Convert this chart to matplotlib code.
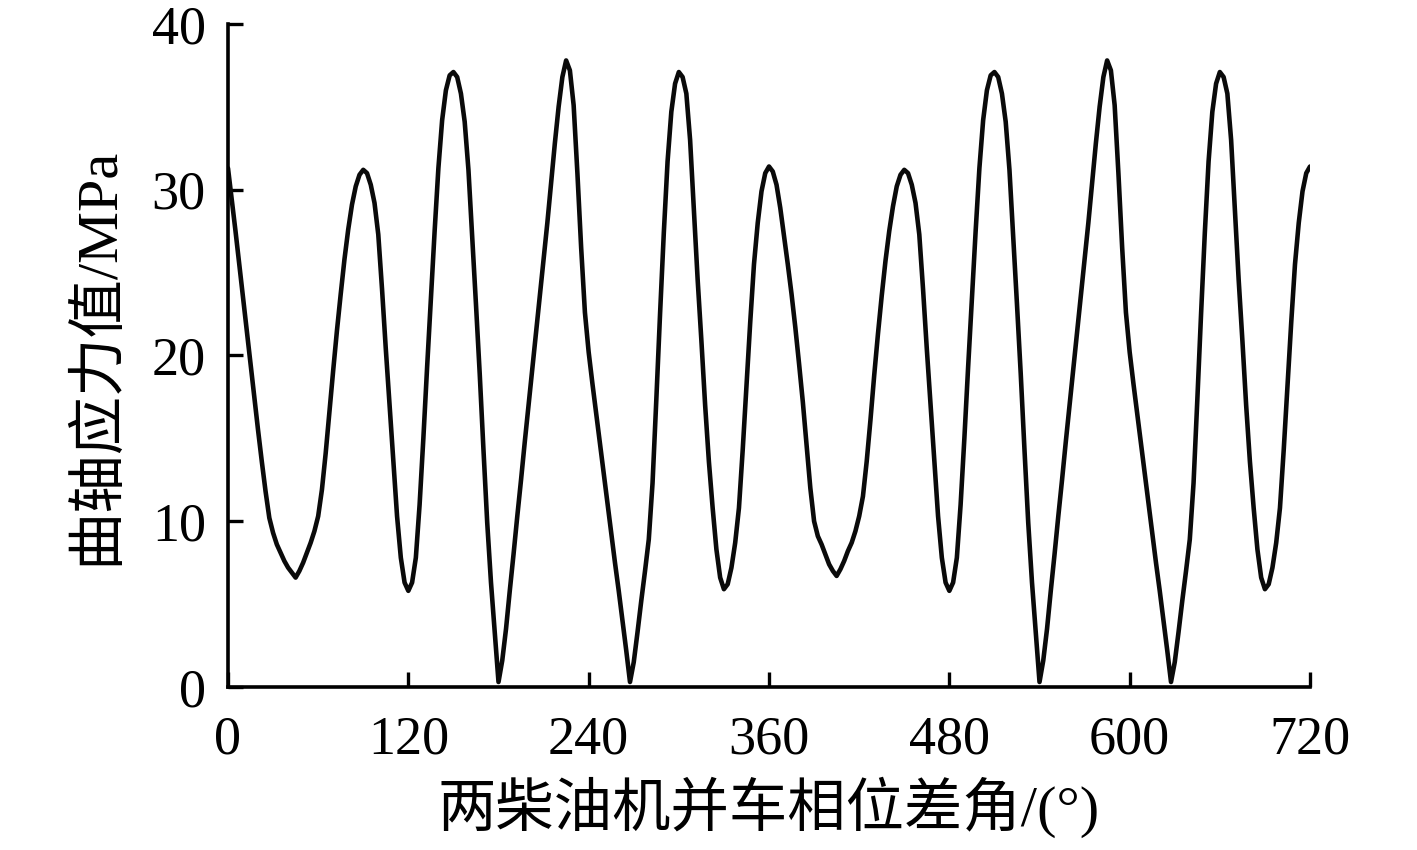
import numpy as np
import matplotlib.pyplot as plt

plt.rcParams['font.family'] = ['Liberation Serif', 'Noto Sans CJK SC']

# phase difference angle (deg), one reading every 2.5 deg from 0 to 720
angle = np.arange(0, 720.1, 2.5)

# crankshaft stress (MPa), 12 readings (30 deg) per row
stress = [
    31.3, 29.4, 27.5, 25.5, 23.5, 21.5, 19.5, 17.5, 15.5, 13.6, 11.8, 10.2,
    9.3, 8.6, 8.1, 7.6, 7.2, 6.9, 6.6, 7.0, 7.5, 8.1, 8.7, 9.4,
    10.3, 11.9, 14.1, 16.6, 19.1, 21.5, 23.7, 25.8, 27.6, 29.1, 30.2, 30.9,
    31.2, 31.0, 30.3, 29.2, 27.3, 24.0, 20.4, 17.0, 13.5, 10.3, 7.8, 6.3,
    5.8, 6.3, 7.8, 11.0, 15.0, 19.3, 23.4, 27.5, 31.3, 34.2, 36.0, 36.9,
    37.1, 36.8, 35.8, 34.1, 31.2, 27.2, 23.1, 18.9, 14.3, 9.9, 6.3, 3.3,
    0.3, 1.6, 3.5, 5.8, 8.0, 10.3, 12.5, 14.8, 17.0, 19.2, 21.4, 23.6,
    25.8, 28.0, 30.4, 32.8, 35.0, 36.8, 37.8, 37.2, 35.1, 31.0, 26.5, 22.6,
    20.2, 18.3, 16.5, 14.7, 12.9, 11.1, 9.3, 7.5, 5.8, 4.0, 2.2, 0.3,
    1.5, 3.3, 5.2, 7.0, 8.9, 12.3, 17.3, 22.5, 27.4, 31.7, 34.7, 36.4,
    37.1, 36.8, 35.8, 33.0, 28.8, 24.6, 20.9, 17.0, 13.6, 10.8, 8.3, 6.6,
    5.9, 6.2, 7.2, 8.7, 10.8, 14.3, 18.2, 22.0, 25.5, 28.0, 29.9, 31.0,
    31.4, 31.1, 30.3, 28.9, 27.2, 25.5, 23.7, 21.7, 19.5, 17.2, 14.6, 12.0,
    10.0, 9.1, 8.6, 8.0, 7.4, 7.0, 6.7, 7.1, 7.6, 8.2, 8.7, 9.4,
    10.3, 11.5, 13.6, 16.1, 18.8, 21.3, 23.6, 25.7, 27.5, 29.0, 30.2, 30.9,
    31.2, 31.0, 30.3, 29.2, 27.3, 24.0, 20.4, 17.0, 13.5, 10.3, 7.8, 6.3,
    5.8, 6.3, 7.8, 11.0, 15.0, 19.3, 23.4, 27.5, 31.3, 34.2, 36.0, 36.9,
    37.1, 36.8, 35.8, 34.1, 31.2, 27.2, 23.1, 18.9, 14.3, 9.9, 6.3, 3.3,
    0.3, 1.6, 3.5, 5.8, 8.0, 10.3, 12.5, 14.8, 17.0, 19.2, 21.4, 23.6,
    25.8, 28.0, 30.4, 32.8, 35.0, 36.8, 37.8, 37.2, 35.1, 31.0, 26.5, 22.6,
    20.2, 18.3, 16.5, 14.7, 12.9, 11.1, 9.3, 7.5, 5.8, 4.0, 2.2, 0.3,
    1.5, 3.3, 5.2, 7.0, 8.9, 12.3, 17.3, 22.5, 27.4, 31.7, 34.7, 36.4,
    37.1, 36.8, 35.8, 33.0, 28.8, 24.6, 20.9, 17.0, 13.6, 10.8, 8.3, 6.6,
    5.9, 6.2, 7.2, 8.7, 10.8, 14.3, 18.2, 22.0, 25.5, 28.0, 29.9, 31.0,
    31.4,
]
xticks = [0, 120, 240, 360, 480, 600, 720]
yticks = [0, 10, 20, 30, 40]

fig = plt.figure(figsize=(14.17, 8.5), dpi=100)
ax = fig.add_axes([0.1609, 0.1918, 0.7636, 0.78])

ax.plot(angle, stress, color='#0a0a0a', lw=3.3, solid_joinstyle='round',
        solid_capstyle='round')

ax.set_xlim(0, 720)
ax.set_ylim(0, 40)
ax.set_xticks(xticks)
ax.set_yticks(yticks)
ax.spines['top'].set_visible(False)
ax.spines['right'].set_visible(False)
for s in ['left', 'bottom']:
    ax.spines[s].set_linewidth(2.6)
ax.tick_params(direction='in', length=11, width=2.4, labelsize=39)
ax.tick_params(axis='x', pad=20)
ax.tick_params(axis='y', pad=16)

ax.set_xlabel('两柴油机并车相位差角/(°)', fontsize=42, labelpad=8)
ax.set_ylabel('曲轴应力值/MPa', fontsize=42, labelpad=20)

fig.savefig('out.png', dpi=100)
